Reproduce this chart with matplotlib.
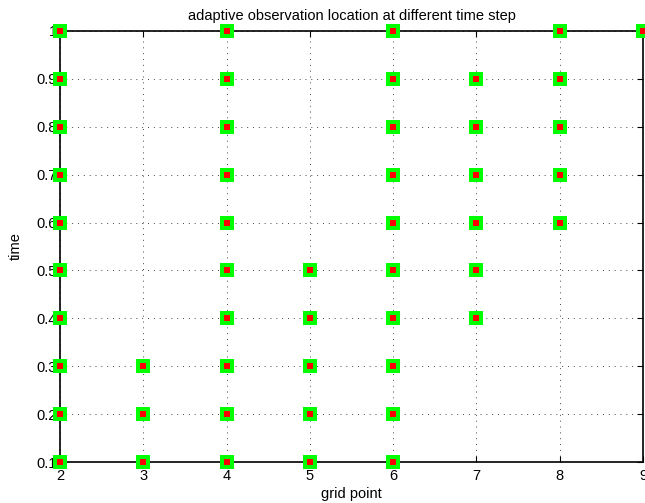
import matplotlib.pyplot as plt

plt.rcParams['font.family'] = ['Liberation Sans', 'DejaVu Sans']

# observation locations (grid points) chosen at each time step
times = [0.1, 0.2, 0.3, 0.4, 0.5, 0.6, 0.7, 0.8, 0.9, 1.0]
locations = [
    [2, 3, 4, 5, 6],
    [2, 3, 4, 5, 6],
    [2, 3, 4, 5, 6],
    [2, 4, 5, 6, 7],
    [2, 4, 5, 6, 7],
    [2, 4, 6, 7, 8],
    [2, 4, 6, 7, 8],
    [2, 4, 6, 7, 8],
    [2, 4, 6, 7, 8],
    [2, 4, 6, 8, 9],
]

xs = []
ys = []
for t, locs in zip(times, locations):
    for g in locs:
        xs.append(g)
        ys.append(t)

fig = plt.figure(figsize=(6.45, 5.03), dpi=100)
ax = fig.add_axes([60 / 645, 41 / 503, 583 / 645, 431 / 503])

ax.plot(xs, ys, 's', color='#00ff00', markersize=9.5, markeredgewidth=0,
        clip_on=False, zorder=3)
ax.plot(xs, ys, 's', color='red', markersize=5, markeredgewidth=0,
        clip_on=False, zorder=4)

ax.set_xlim(2, 9)
ax.set_ylim(0.1, 1)
ax.set_xticks(range(2, 10))
ax.set_yticks(times)
ax.set_yticklabels(['0.1', '0.2', '0.3', '0.4', '0.5', '0.6', '0.7', '0.8', '0.9', '1'])
ax.grid(True, linestyle=(0, (1, 5)), color='#444444', linewidth=0.7)
ax.tick_params(direction='in', labelsize=10.5, length=4, top=True, right=True)
ax.tick_params(axis='x', pad=5)
ax.tick_params(axis='y', pad=2)
for s in ax.spines.values():
    s.set_linewidth(1.2)

ax.set_xlabel('grid point', fontsize=10.5, labelpad=3)
ax.set_ylabel('time', fontsize=10.5, labelpad=10)
ax.set_title('adaptive observation location at different time step', fontsize=10.5, pad=8)

fig.savefig('out.png', dpi=100)
